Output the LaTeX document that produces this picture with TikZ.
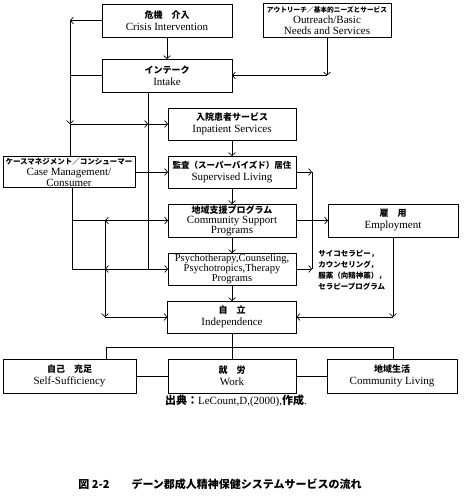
\documentclass[tikz,border=0pt]{standalone}
\usepackage{fontspec}
\setmainfont{Liberation Serif}
\newfontfamily\jp{Noto Sans CJK JP}
\usepackage{tikz}
\usetikzlibrary{arrows.meta,positioning}
\newcommand\jname[1]{{\jp\bfseries\fontsize{9}{12}\selectfont #1}}
\tikzset{
  service/.style={draw,rectangle,line width=0.9pt,inner sep=0pt,outer sep=0pt,
    minimum width=128pt,minimum height=32pt,align=center,
    font=\fontsize{11}{12}\selectfont},
  flowchart/.style={x=1pt,y=-1pt,line width=0.7pt,
    >={Straight Barb[length=3pt,width=7pt]}},
  link/.style={->},
  sidenote/.style={align=left,inner sep=0pt,font=\jp\bfseries\fontsize{7.5}{11}\selectfont}
}
\begin{document}
\begin{tikzpicture}[flowchart]
  \useasboundingbox (0,0) rectangle (464,500);

  % upper part
  \node[service,minimum width=130pt,minimum height=33pt] (crisis) at (167,20.5)
    {\jname{危機　介入}\\Crisis Intervention};
  \node[service,minimum height=34pt,right=31pt of crisis] (outreach)
    {{\jp\bfseries\fontsize{6.7}{10}\selectfont アウトリーチ／基本的ニーズとサービス}\\[-1pt]Outreach/Basic\\[-1pt]Needs and Services};
  \node[service,minimum width=130pt,minimum height=33pt,below=22pt of crisis] (intake)
    {\jname{インテーク}\\Intake};

  % middle column
  \node[service] (inpatient) at (232,124) {\jname{入院患者サービス}\\Inpatient Services};
  \node[service,below=16pt of inpatient] (supervised)
    {{\jp\bfseries\fontsize{8.5}{12}\selectfont 監査（スーパーバイズド）居住}\\Supervised Living};
  \node[service,minimum width=132pt,minimum height=31pt,left=33pt of supervised] (casemgmt)
    {{\jp\bfseries\fontsize{7.5}{10}\selectfont ケースマネジメント／コンシューマー}\\[-1pt]Case Management/\\[-1pt]Consumer};
  \node[service,minimum height=33pt,below=16pt of supervised] (community)
    {\jname{地域支援プログラム}\\[-2pt]Community Support\\[-2pt]Programs};
  \node[service,minimum width=130pt,minimum height=33pt,right=32pt of community] (employment)
    {\jname{雇　用}\\Employment};
  \node[service,below=16pt of community,font=\fontsize{10.5}{10}\selectfont] (psycho)
    {Psychotherapy,Counseling,\\Psychotropics,Therapy\\Programs};
  \node[sidenote,anchor=north west] (psynote) at (318,250)
    {サイコセラピー，\\カウンセリング，\\服薬（向精神薬），\\セラピープログラム};
  \node[service,minimum width=129pt,below=16pt of psycho] (independence)
    {\jname{自　立}\\Independence};

  % lower part
  \node[service,minimum height=34pt,below=26pt of independence] (work)
    {\jname{就　労}\\Work};
  \node[service,minimum width=133pt,minimum height=34pt,left=32pt of work] (selfsuff)
    {\jname{自己　充足}\\Self-Sufficiency};
  \node[service,minimum width=130pt,minimum height=34pt,right=31pt of work] (commliving)
    {\jname{地域生活}\\Community Living};
  \node (source) at (236,401)
    {\fontsize{11}{13}\selectfont{\jp\bfseries 出典：}LeCount,D,(2000),{\jp\bfseries 作成}.};
  \node (caption) at (220,484)
    {\jp\bfseries\fontsize{11}{13}\selectfont 図 2-2　　デーン郡成人精神保健システムサービスの流れ};

  % junctions
  \coordinate (ltop) at (70,20.5);
  \coordinate (lmid) at (70,124);
  \coordinate (ix) at (148,124);
  \coordinate (ibot) at (148,269);
  \coordinate (oc) at (outreach.south |- intake.east);
  \coordinate (cl1) at (72,220.5);
  \coordinate (cl2) at (72,269);
  \coordinate (j1) at (105,220.5);
  \coordinate (j2) at (105,269);
  \coordinate (jb) at (105,317);
  \coordinate (rtop) at (312,172);
  \coordinate (rbot) at (312,269);
  \coordinate (ec) at (employment.south |- independence.east);
  \coordinate (bl) at (106,347);
  \coordinate (bm) at (232,347);
  \coordinate (br) at (393,347);

  \draw[link] (crisis) -- (intake);
  \draw[link] (outreach) -- (oc);
  \draw[link] (oc) -- (intake);
  \draw[link] (crisis.west) -- (ltop);
  \draw[link] (ltop) -- (lmid);
  \draw (lmid) -- (lmid |- casemgmt.north);
  \draw (intake.west) -- (intake.west -| ltop);
  \draw[link] (lmid) -- (ix);
  \draw[link] (ix) -- (inpatient.west);
  \draw (ix |- intake.south) -- (ibot);

  \draw[link] (inpatient) -- (supervised);
  \draw[link] (casemgmt) -- (supervised);
  \draw[link] (supervised) -- (community);
  \draw[link] (community) -- (psycho);
  \draw[link] (psycho) -- (independence);
  \draw[link] (supervised.east) -- (rtop);
  \draw (rtop) -- (rbot);
  \draw[link] (psycho.east) -- (rbot);
  \draw[link] (community) -- (employment);
  \draw[link] (employment.south) -- (ec);
  \draw[link] (ec) -- (independence.east);

  \draw (cl1 |- casemgmt.south) -- (cl2);
  \draw[link] (cl1) -- (community.west);
  \draw[link] (community.west) -- (j1);
  \draw[link] (cl2) -- (psycho.west);
  \draw[link] (ibot) -- (j2);
  \draw[link] (j1) -- (jb);
  \draw[link] (jb) -- (independence.west);

  \draw (independence) -- (bm);
  \draw (bl) -- (br);
  \draw (bl) -- (bl |- selfsuff.north);
  \draw (bm) -- (work);
  \draw (br) -- (br |- commliving.north);
  \draw (selfsuff) -- (work);
  \draw (work) -- (commliving);
\end{tikzpicture}
\end{document}
